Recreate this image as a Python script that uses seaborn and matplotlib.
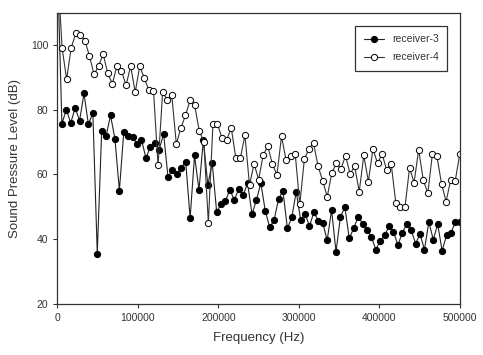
import numpy as np
import pandas as pd
import matplotlib
matplotlib.use("Agg")
import matplotlib.pyplot as plt
import seaborn as sns

sns.set_style("ticks")
plt.rcParams['font.family'] = ['Liberation Sans', 'DejaVu Sans']

# valores (o primeiro ponto em 0 Hz sai fora do eixo)
receiver_3 = [125.0,
    75.7, 80.1, 76.0, 80.6, 76.7, 85.1, 75.5, 79.1, 35.5, 73.6,
    72.0, 78.3, 71.0, 55.0, 73.2, 72.0, 71.5, 69.5, 70.8, 65.1,
    68.5, 69.9, 67.7, 72.6, 59.2, 61.4, 60.2, 62.0, 64.0, 46.4,
    65.9, 55.2, 70.8, 56.8, 63.5, 48.4, 50.8, 51.9, 55.2, 52.1,
    55.5, 53.6, 57.3, 47.7, 52.1, 57.3, 48.7, 43.6, 45.9, 52.4,
    54.9, 43.3, 46.7, 54.7, 45.9, 47.7, 44.0, 48.3, 45.6, 45.0,
    39.6, 49.0, 36.0, 46.9, 49.8, 40.2, 43.3, 46.9, 44.8, 42.7,
    40.7, 36.7, 39.4, 41.1, 44.0, 42.2, 38.1, 42.0, 44.6, 42.7,
    38.6, 41.5, 36.7, 45.3, 39.8, 44.6, 36.3, 41.2, 41.9, 45.3,
    45.3]
receiver_4 = [125.0,
    99.3, 89.5, 99.3, 103.7, 103.3, 101.5, 96.7, 91.0, 93.6, 97.3,
    91.3, 88.1, 93.6, 92.1, 87.6, 93.6, 85.5, 93.6, 89.8, 86.1,
    86.0, 62.8, 85.5, 83.2, 84.5, 69.4, 74.5, 78.3, 83.0, 81.5,
    73.6, 70.1, 45.1, 75.5, 75.5, 71.3, 70.6, 74.5, 65.2, 65.0,
    72.2, 56.7, 63.3, 58.4, 66.1, 68.7, 63.3, 59.9, 71.8, 64.5,
    65.6, 66.4, 50.7, 64.8, 67.9, 69.8, 62.5, 58.1, 53.1, 60.4,
    63.5, 61.7, 65.8, 60.2, 62.5, 54.7, 65.9, 57.8, 67.9, 63.5,
    66.3, 61.4, 63.3, 51.1, 50.0, 49.8, 62.0, 57.5, 67.7, 58.3,
    54.2, 66.3, 65.6, 57.1, 51.6, 58.3, 58.1, 66.4]

# frequencias igualmente espacadas ate 500 kHz
freq_3 = np.linspace(0, 500000, len(receiver_3))
freq_4 = np.linspace(0, 500000, len(receiver_4))

x_ticks = [0, 100000, 200000, 300000, 400000, 500000]
y_ticks = [20, 40, 60, 80, 100]

fig = plt.figure(figsize=(4.83, 3.55), dpi=100)
ax = fig.add_axes([0.119, 0.145, 0.833, 0.818])

sns.lineplot(x=freq_3, y=receiver_3, ax=ax, color="#222222", linewidth=0.8,
             marker="o", markersize=4.5, markerfacecolor="black",
             markeredgecolor="black", markeredgewidth=0.7, label="receiver-3")
sns.lineplot(x=freq_4, y=receiver_4, ax=ax, color="#333333", linewidth=0.8,
             marker="o", markersize=4.5, markerfacecolor="white",
             markeredgecolor="black", markeredgewidth=0.7, label="receiver-4")

ax.set_xlim(0, 500000)
ax.set_ylim(20, 110)
ax.set_xticks(x_ticks)
ax.set_xticklabels([str(v) for v in x_ticks])
ax.set_yticks(y_ticks)
ax.tick_params(direction="out", length=3, width=0.8, labelsize=7.5,
               colors="#333333", top=False, right=False)
for s in ax.spines.values():
    s.set_color("#333333")
    s.set_linewidth(0.9)

ax.set_xlabel("Frequency (Hz)", fontsize=9.5, color="#333333", labelpad=7)
ax.set_ylabel("Sound Pressure Level (dB)", fontsize=9.5, color="#333333", labelpad=7)

leg = ax.legend(loc="upper right", fontsize=7.5, frameon=True, fancybox=False,
                edgecolor="#333333", framealpha=1, borderpad=0.85,
                labelspacing=0.75, handlelength=2.0, handletextpad=0.7,
                bbox_to_anchor=(0.982, 0.975))
leg.get_frame().set_linewidth(0.9)
for t in leg.get_texts():
    t.set_color("#333333")

fig.savefig("out.png", dpi=100)
